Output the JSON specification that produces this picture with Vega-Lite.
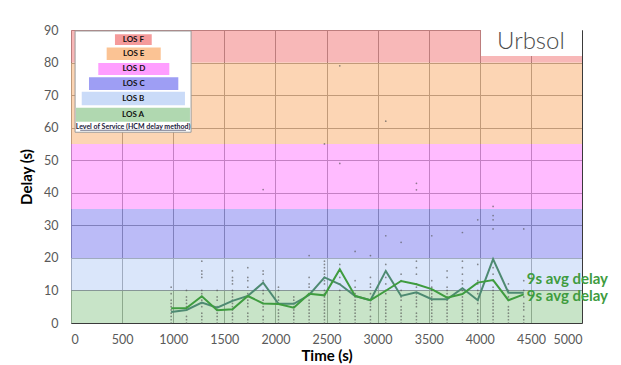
{
  "$schema": "https://vega.github.io/schema/vega-lite/v6.json",
  "width": 511,
  "height": 293,
  "autosize": {"type": "none"},
  "padding": {"left": 71, "top": 30, "right": 39, "bottom": 42},
  "background": "white",
  "config": {
    "view": {"stroke": null},
    "font": "Lato",
    "axis": {
      "grid": true, "gridColor": "#3a3a3a", "gridWidth": 1, "ticks": false, "domain": false,
      "labelColor": "#595959", "labelFontSize": 12.5, "labelFont": "Lato", "labelOverlap": false,
      "titleFont": "Lato", "titleFontSize": 15, "titleFontWeight": "bold", "titleColor": "#000000"
    }
  },
  "datasets": {
    "bands": [
      {"los": "A", "lo": 0, "hi": 10},
      {"los": "B", "lo": 10, "hi": 20},
      {"los": "C", "lo": 20, "hi": 35},
      {"los": "D", "lo": 35, "hi": 55},
      {"los": "E", "lo": 55, "hi": 80},
      {"los": "F", "lo": 80, "hi": 90}
    ],
    "dots": [
      {"t":980,"d":0},{"t":980,"d":1},{"t":980,"d":2},{"t":980,"d":3},{"t":980,"d":4},{"t":980,"d":5},{"t":980,"d":6},{"t":980,"d":7},{"t":980,"d":9},{"t":980,"d":11},
      {"t":1130,"d":0},{"t":1130,"d":1},{"t":1130,"d":2},{"t":1130,"d":4},{"t":1130,"d":5},{"t":1130,"d":6},{"t":1130,"d":7},{"t":1130,"d":8},{"t":1130,"d":10},
      {"t":1280,"d":0},{"t":1280,"d":1},{"t":1280,"d":2},{"t":1280,"d":3},{"t":1280,"d":5},{"t":1280,"d":6},{"t":1280,"d":7},{"t":1280,"d":9},{"t":1280,"d":10},{"t":1280,"d":14},{"t":1280,"d":15},{"t":1280,"d":16},{"t":1280,"d":19},
      {"t":1430,"d":0},{"t":1430,"d":1},{"t":1430,"d":2},{"t":1430,"d":3},{"t":1430,"d":4},{"t":1430,"d":5},{"t":1430,"d":7},{"t":1430,"d":8},{"t":1430,"d":10},
      {"t":1580,"d":0},{"t":1580,"d":1},{"t":1580,"d":2},{"t":1580,"d":3},{"t":1580,"d":4},{"t":1580,"d":5},{"t":1580,"d":6},{"t":1580,"d":7},{"t":1580,"d":8},{"t":1580,"d":9},{"t":1580,"d":10},{"t":1580,"d":12},{"t":1580,"d":13},{"t":1580,"d":14},{"t":1580,"d":16},
      {"t":1730,"d":0},{"t":1730,"d":1},{"t":1730,"d":2},{"t":1730,"d":3},{"t":1730,"d":5},{"t":1730,"d":6},{"t":1730,"d":7},{"t":1730,"d":8},{"t":1730,"d":9},{"t":1730,"d":11},{"t":1730,"d":13},{"t":1730,"d":14},{"t":1730,"d":17},
      {"t":1880,"d":0},{"t":1880,"d":1},{"t":1880,"d":2},{"t":1880,"d":4},{"t":1880,"d":5},{"t":1880,"d":6},{"t":1880,"d":7},{"t":1880,"d":9},{"t":1880,"d":10},{"t":1880,"d":13},{"t":1880,"d":15},{"t":1880,"d":16},{"t":1880,"d":41},
      {"t":2030,"d":0},{"t":2030,"d":1},{"t":2030,"d":2},{"t":2030,"d":3},{"t":2030,"d":4},{"t":2030,"d":6},{"t":2030,"d":7},{"t":2030,"d":8},{"t":2030,"d":10},{"t":2030,"d":11},
      {"t":2180,"d":0},{"t":2180,"d":1},{"t":2180,"d":2},{"t":2180,"d":3},{"t":2180,"d":4},{"t":2180,"d":5},{"t":2180,"d":6},{"t":2180,"d":7},{"t":2180,"d":8},
      {"t":2330,"d":0},{"t":2330,"d":1},{"t":2330,"d":2},{"t":2330,"d":3},{"t":2330,"d":4},{"t":2330,"d":5},{"t":2330,"d":6},{"t":2330,"d":7},{"t":2330,"d":9},{"t":2330,"d":11},{"t":2330,"d":12},{"t":2330,"d":14},{"t":2330,"d":20.7},
      {"t":2480,"d":0},{"t":2480,"d":1},{"t":2480,"d":2},{"t":2480,"d":3},{"t":2480,"d":4},{"t":2480,"d":5},{"t":2480,"d":6},{"t":2480,"d":7},{"t":2480,"d":8},{"t":2480,"d":9},{"t":2480,"d":10},{"t":2480,"d":12},{"t":2480,"d":13},{"t":2480,"d":14},{"t":2480,"d":15},{"t":2480,"d":16},{"t":2480,"d":17},{"t":2480,"d":18},{"t":2480,"d":19},{"t":2480,"d":55},
      {"t":2630,"d":0},{"t":2630,"d":1},{"t":2630,"d":2},{"t":2630,"d":3},{"t":2630,"d":4},{"t":2630,"d":6},{"t":2630,"d":7},{"t":2630,"d":8},{"t":2630,"d":10},{"t":2630,"d":12},{"t":2630,"d":14},{"t":2630,"d":16},{"t":2630,"d":18},{"t":2630,"d":49},{"t":2630,"d":79},
      {"t":2780,"d":0},{"t":2780,"d":1},{"t":2780,"d":2},{"t":2780,"d":3},{"t":2780,"d":4},{"t":2780,"d":5},{"t":2780,"d":6},{"t":2780,"d":7},{"t":2780,"d":8},{"t":2780,"d":9},{"t":2780,"d":11},{"t":2780,"d":13},{"t":2780,"d":22},
      {"t":2930,"d":0},{"t":2930,"d":1},{"t":2930,"d":2},{"t":2930,"d":4},{"t":2930,"d":5},{"t":2930,"d":6},{"t":2930,"d":7},{"t":2930,"d":9},{"t":2930,"d":11},{"t":2930,"d":12},{"t":2930,"d":14},{"t":2930,"d":20.7},
      {"t":3080,"d":0},{"t":3080,"d":1},{"t":3080,"d":2},{"t":3080,"d":3},{"t":3080,"d":4},{"t":3080,"d":5},{"t":3080,"d":6},{"t":3080,"d":7},{"t":3080,"d":9},{"t":3080,"d":10},{"t":3080,"d":12},{"t":3080,"d":14},{"t":3080,"d":18},{"t":3080,"d":26.8},{"t":3080,"d":62},
      {"t":3230,"d":0},{"t":3230,"d":1},{"t":3230,"d":2},{"t":3230,"d":3},{"t":3230,"d":4},{"t":3230,"d":5},{"t":3230,"d":7},{"t":3230,"d":8},{"t":3230,"d":10},{"t":3230,"d":13},{"t":3230,"d":15},{"t":3230,"d":24.8},
      {"t":3380,"d":0},{"t":3380,"d":1},{"t":3380,"d":2},{"t":3380,"d":3},{"t":3380,"d":5},{"t":3380,"d":6},{"t":3380,"d":7},{"t":3380,"d":8},{"t":3380,"d":9},{"t":3380,"d":11},{"t":3380,"d":12},{"t":3380,"d":15},{"t":3380,"d":17},{"t":3380,"d":19},{"t":3380,"d":40.9},{"t":3380,"d":42.9},
      {"t":3530,"d":0},{"t":3530,"d":1},{"t":3530,"d":2},{"t":3530,"d":3},{"t":3530,"d":4},{"t":3530,"d":5},{"t":3530,"d":6},{"t":3530,"d":7},{"t":3530,"d":8},{"t":3530,"d":9},{"t":3530,"d":10},{"t":3530,"d":11},{"t":3530,"d":13},{"t":3530,"d":26.8},
      {"t":3680,"d":0},{"t":3680,"d":1},{"t":3680,"d":2},{"t":3680,"d":3},{"t":3680,"d":4},{"t":3680,"d":5},{"t":3680,"d":6},{"t":3680,"d":7},{"t":3680,"d":8},{"t":3680,"d":9},{"t":3680,"d":10},{"t":3680,"d":11},{"t":3680,"d":14},{"t":3680,"d":16},
      {"t":3830,"d":0},{"t":3830,"d":1},{"t":3830,"d":2},{"t":3830,"d":3},{"t":3830,"d":4},{"t":3830,"d":5},{"t":3830,"d":6},{"t":3830,"d":7},{"t":3830,"d":8},{"t":3830,"d":10},{"t":3830,"d":12},{"t":3830,"d":13},{"t":3830,"d":15},{"t":3830,"d":17},{"t":3830,"d":19},{"t":3830,"d":27.8},
      {"t":3980,"d":0},{"t":3980,"d":1},{"t":3980,"d":2},{"t":3980,"d":3},{"t":3980,"d":4},{"t":3980,"d":6},{"t":3980,"d":7},{"t":3980,"d":9},{"t":3980,"d":10},{"t":3980,"d":12},{"t":3980,"d":13},{"t":3980,"d":18},{"t":3980,"d":31.7},
      {"t":4130,"d":0},{"t":4130,"d":1},{"t":4130,"d":2},{"t":4130,"d":3},{"t":4130,"d":4},{"t":4130,"d":5},{"t":4130,"d":6},{"t":4130,"d":7},{"t":4130,"d":8},{"t":4130,"d":9},{"t":4130,"d":10},{"t":4130,"d":11},{"t":4130,"d":13},{"t":4130,"d":15},{"t":4130,"d":17},{"t":4130,"d":19},{"t":4130,"d":28.9},{"t":4130,"d":31.7},{"t":4130,"d":33},{"t":4130,"d":35.8},
      {"t":4280,"d":0},{"t":4280,"d":1},{"t":4280,"d":2},{"t":4280,"d":3},{"t":4280,"d":4},{"t":4280,"d":5},{"t":4280,"d":7},{"t":4280,"d":8},{"t":4280,"d":10},{"t":4280,"d":12},
      {"t":4430,"d":0},{"t":4430,"d":1},{"t":4430,"d":2},{"t":4430,"d":4},{"t":4430,"d":5},{"t":4430,"d":6},{"t":4430,"d":8},{"t":4430,"d":10},{"t":4430,"d":13},{"t":4430,"d":28.9}
    ],
    "lines": [
      {"s":"a","t":980,"d":3.4},{"s":"a","t":1130,"d":4.0},{"s":"a","t":1280,"d":6.3},{"s":"a","t":1430,"d":4.7},{"s":"a","t":1580,"d":6.8},{"s":"a","t":1730,"d":8.3},{"s":"a","t":1880,"d":12.4},{"s":"a","t":2030,"d":5.9},{"s":"a","t":2180,"d":5.9},{"s":"a","t":2330,"d":8.6},{"s":"a","t":2480,"d":14.0},{"s":"a","t":2630,"d":11.9},{"s":"a","t":2780,"d":8.3},{"s":"a","t":2930,"d":7.0},{"s":"a","t":3080,"d":16.0},{"s":"a","t":3230,"d":8.3},{"s":"a","t":3380,"d":9.4},{"s":"a","t":3530,"d":7.3},{"s":"a","t":3680,"d":7.3},{"s":"a","t":3830,"d":10.7},{"s":"a","t":3980,"d":7.0},{"s":"a","t":4130,"d":19.6},{"s":"a","t":4280,"d":9.3},{"s":"a","t":4430,"d":9.3},
      {"s":"b","t":980,"d":4.5},{"s":"b","t":1130,"d":4.6},{"s":"b","t":1280,"d":8.2},{"s":"b","t":1430,"d":3.9},{"s":"b","t":1580,"d":4.2},{"s":"b","t":1730,"d":8.3},{"s":"b","t":1880,"d":6.0},{"s":"b","t":2030,"d":5.8},{"s":"b","t":2180,"d":4.7},{"s":"b","t":2330,"d":9.0},{"s":"b","t":2480,"d":8.5},{"s":"b","t":2630,"d":16.5},{"s":"b","t":2780,"d":8.3},{"s":"b","t":2930,"d":7.0},{"s":"b","t":3080,"d":9.9},{"s":"b","t":3230,"d":12.9},{"s":"b","t":3380,"d":11.9},{"s":"b","t":3530,"d":10.4},{"s":"b","t":3680,"d":7.8},{"s":"b","t":3830,"d":8.9},{"s":"b","t":3980,"d":12.4},{"s":"b","t":4130,"d":13.2},{"s":"b","t":4280,"d":7.0},{"s":"b","t":4430,"d":8.8}
    ],
    "labels": [
      {"t": 4460, "d": 13.4, "txt": "9s avg delay"},
      {"t": 4460, "d": 8.2, "txt": "9s avg delay"}
    ],
    "pyramid": [
      {"los": "F", "name": "LOS F", "t": 430, "t2": 790, "d": 85.4, "d2": 88.7},
      {"los": "E", "name": "LOS E", "t": 349, "t2": 878, "d": 80.8, "d2": 84.6},
      {"los": "D", "name": "LOS D", "t": 267, "t2": 962, "d": 76.2, "d2": 79.9},
      {"los": "C", "name": "LOS C", "t": 176, "t2": 1050, "d": 71.6, "d2": 75.5},
      {"los": "B", "name": "LOS B", "t": 105, "t2": 1115, "d": 66.9, "d2": 71.0},
      {"los": "A", "name": "LOS A", "t": 49, "t2": 1164, "d": 61.8, "d2": 66.1}
    ]
  },
  "layer": [
    {
      "data": {"name": "bands"},
      "mark": {"type": "rect", "opacity": 0.7},
      "encoding": {
        "x": {"datum": 0, "type": "quantitative", "scale": {"domain": [0, 5000], "nice": false},
          "axis": {"title": "Time (s)", "values": [0,500,1000,1500,2000,2500,3000,3500,4000,4500,5000], "format": "d", "labelPadding": 10, "titlePadding": 3}},
        "x2": {"datum": 5000},
        "y": {"field": "lo", "type": "quantitative", "scale": {"domain": [0, 90], "nice": false},
          "axis": {"title": "Delay (s)", "values": [0,10,20,30,40,50,60,70,80,90], "format": "d", "labelPadding": 13, "titlePadding": 9}},
        "y2": {"field": "hi"},
        "fill": {"field": "los", "type": "nominal", "legend": null,
          "scale": {"domain": ["A","B","C","D","E","F"], "range": ["#b0d8b0","#cadbf8","#9e9ef4","#ff9eff","#fbc394","#f59a9a"]}}
      }
    },
    {
      "data": {"name": "dots"},
      "mark": {"type": "point", "filled": true, "size": 3, "color": "#555555", "opacity": 0.65},
      "encoding": {
        "x": {"field": "t", "type": "quantitative", "scale": {"domain": [0, 5000], "nice": false},
          "axis": {"title": "Time (s)", "values": [0,500,1000,1500,2000,2500,3000,3500,4000,4500,5000], "format": "d", "labelPadding": 10, "titlePadding": 3}},
        "y": {"field": "d", "type": "quantitative", "scale": {"domain": [0, 90], "nice": false},
          "axis": {"title": "Delay (s)", "values": [0,10,20,30,40,50,60,70,80,90], "format": "d", "labelPadding": 13, "titlePadding": 9}}
      }
    },
    {
      "data": {"name": "lines"},
      "mark": {"type": "line", "strokeWidth": 2},
      "encoding": {
        "x": {"field": "t", "type": "quantitative", "scale": {"domain": [0, 5000], "nice": false},
          "axis": {"title": "Time (s)", "values": [0,500,1000,1500,2000,2500,3000,3500,4000,4500,5000], "format": "d", "labelPadding": 10, "titlePadding": 3}},
        "y": {"field": "d", "type": "quantitative", "scale": {"domain": [0, 90], "nice": false},
          "axis": {"title": "Delay (s)", "values": [0,10,20,30,40,50,60,70,80,90], "format": "d", "labelPadding": 13, "titlePadding": 9}},
        "color": {"field": "s", "type": "nominal", "legend": null,
          "scale": {"domain": ["a","b"], "range": ["#4e8a72","#3f9c3f"]}}
      }
    },
    {
      "data": {"name": "labels"},
      "mark": {"type": "text", "align": "left", "baseline": "middle", "fontSize": 15, "fontWeight": "bold", "color": "#3f9c3f", "font": "Lato"},
      "encoding": {
        "x": {"field": "t", "type": "quantitative", "scale": {"domain": [0, 5000], "nice": false},
          "axis": {"title": "Time (s)", "values": [0,500,1000,1500,2000,2500,3000,3500,4000,4500,5000], "format": "d", "labelPadding": 10, "titlePadding": 3}},
        "y": {"field": "d", "type": "quantitative", "scale": {"domain": [0, 90], "nice": false},
          "axis": {"title": "Delay (s)", "values": [0,10,20,30,40,50,60,70,80,90], "format": "d", "labelPadding": 13, "titlePadding": 9}},
        "text": {"field": "txt"}
      }
    },
    {
      "data": {"values": [{}]},
      "mark": {"type": "rect", "fill": "white", "stroke": "#9a9a9a", "strokeWidth": 1},
      "encoding": {
        "x": {"datum": 40, "type": "quantitative", "scale": {"domain": [0, 5000], "nice": false},
          "axis": {"title": "Time (s)", "values": [0,500,1000,1500,2000,2500,3000,3500,4000,4500,5000], "format": "d", "labelPadding": 10, "titlePadding": 3}},
        "x2": {"datum": 1175},
        "y": {"datum": 58.6, "type": "quantitative", "scale": {"domain": [0, 90], "nice": false},
          "axis": {"title": "Delay (s)", "values": [0,10,20,30,40,50,60,70,80,90], "format": "d", "labelPadding": 13, "titlePadding": 9}},
        "y2": {"datum": 89.7}
      }
    },
    {
      "data": {"name": "pyramid"},
      "mark": {"type": "rect"},
      "encoding": {
        "x": {"field": "t", "type": "quantitative", "scale": {"domain": [0, 5000], "nice": false},
          "axis": {"title": "Time (s)", "values": [0,500,1000,1500,2000,2500,3000,3500,4000,4500,5000], "format": "d", "labelPadding": 10, "titlePadding": 3}},
        "x2": {"field": "t2"},
        "y": {"field": "d", "type": "quantitative", "scale": {"domain": [0, 90], "nice": false},
          "axis": {"title": "Delay (s)", "values": [0,10,20,30,40,50,60,70,80,90], "format": "d", "labelPadding": 13, "titlePadding": 9}},
        "y2": {"field": "d2"},
        "fill": {"field": "los", "type": "nominal", "legend": null,
          "scale": {"domain": ["A","B","C","D","E","F"], "range": ["#8fcf8f","#b8d0f7","#7d7df2","#f78af7","#f7b37e","#f28484"]}}
      }
    },
    {
      "data": {"name": "pyramid"},
      "transform": [{"calculate": "(datum.t + datum.t2) / 2", "as": "tm"}, {"calculate": "(datum.d + datum.d2) / 2", "as": "dm"}],
      "mark": {"type": "text", "fontSize": 8, "fontWeight": "bold", "color": "#111111", "font": "Lato", "baseline": "middle"},
      "encoding": {
        "x": {"field": "tm", "type": "quantitative", "scale": {"domain": [0, 5000], "nice": false},
          "axis": {"title": "Time (s)", "values": [0,500,1000,1500,2000,2500,3000,3500,4000,4500,5000], "format": "d", "labelPadding": 10, "titlePadding": 3}},
        "y": {"field": "dm", "type": "quantitative", "scale": {"domain": [0, 90], "nice": false},
          "axis": {"title": "Delay (s)", "values": [0,10,20,30,40,50,60,70,80,90], "format": "d", "labelPadding": 13, "titlePadding": 9}},
        "text": {"field": "name"}
      }
    },
    {
      "data": {"values": [{"txt": "Level of Service (HCM delay method)"}]},
      "mark": {"type": "text", "fontSize": 7, "fontWeight": "bold", "color": "#1a1a3a", "font": "Lato", "baseline": "middle"},
      "encoding": {
        "x": {"datum": 607, "type": "quantitative", "scale": {"domain": [0, 5000], "nice": false},
          "axis": {"title": "Time (s)", "values": [0,500,1000,1500,2000,2500,3000,3500,4000,4500,5000], "format": "d", "labelPadding": 10, "titlePadding": 3}},
        "y": {"datum": 60.2, "type": "quantitative", "scale": {"domain": [0, 90], "nice": false},
          "axis": {"title": "Delay (s)", "values": [0,10,20,30,40,50,60,70,80,90], "format": "d", "labelPadding": 13, "titlePadding": 9}},
        "text": {"field": "txt"}
      }
    },
    {
      "data": {"values": [{}]},
      "mark": {"type": "rule", "stroke": "#1a1a3a", "strokeWidth": 0.6},
      "encoding": {
        "x": {"datum": 90, "type": "quantitative", "scale": {"domain": [0, 5000], "nice": false},
          "axis": {"title": "Time (s)", "values": [0,500,1000,1500,2000,2500,3000,3500,4000,4500,5000], "format": "d", "labelPadding": 10, "titlePadding": 3}},
        "x2": {"datum": 1125},
        "y": {"datum": 59.2, "type": "quantitative", "scale": {"domain": [0, 90], "nice": false},
          "axis": {"title": "Delay (s)", "values": [0,10,20,30,40,50,60,70,80,90], "format": "d", "labelPadding": 13, "titlePadding": 9}}
      }
    },
    {
      "data": {"values": [{}]},
      "mark": {"type": "rect", "fill": "white"},
      "encoding": {
        "x": {"datum": 4012, "type": "quantitative", "scale": {"domain": [0, 5000], "nice": false},
          "axis": {"title": "Time (s)", "values": [0,500,1000,1500,2000,2500,3000,3500,4000,4500,5000], "format": "d", "labelPadding": 10, "titlePadding": 3}},
        "x2": {"datum": 5000},
        "y": {"datum": 82, "type": "quantitative", "scale": {"domain": [0, 90], "nice": false},
          "axis": {"title": "Delay (s)", "values": [0,10,20,30,40,50,60,70,80,90], "format": "d", "labelPadding": 13, "titlePadding": 9}},
        "y2": {"datum": 90}
      }
    },
    {
      "data": {"values": [{"txt": "Urbsol"}]},
      "mark": {"type": "text", "fontSize": 24, "fontWeight": 300, "color": "#4a4a4a", "font": "Lato", "baseline": "middle"},
      "encoding": {
        "x": {"datum": 4500, "type": "quantitative", "scale": {"domain": [0, 5000], "nice": false},
          "axis": {"title": "Time (s)", "values": [0,500,1000,1500,2000,2500,3000,3500,4000,4500,5000], "format": "d", "labelPadding": 10, "titlePadding": 3}},
        "y": {"datum": 86.2, "type": "quantitative", "scale": {"domain": [0, 90], "nice": false},
          "axis": {"title": "Delay (s)", "values": [0,10,20,30,40,50,60,70,80,90], "format": "d", "labelPadding": 13, "titlePadding": 9}},
        "text": {"field": "txt"}
      }
    }
  ]
}
